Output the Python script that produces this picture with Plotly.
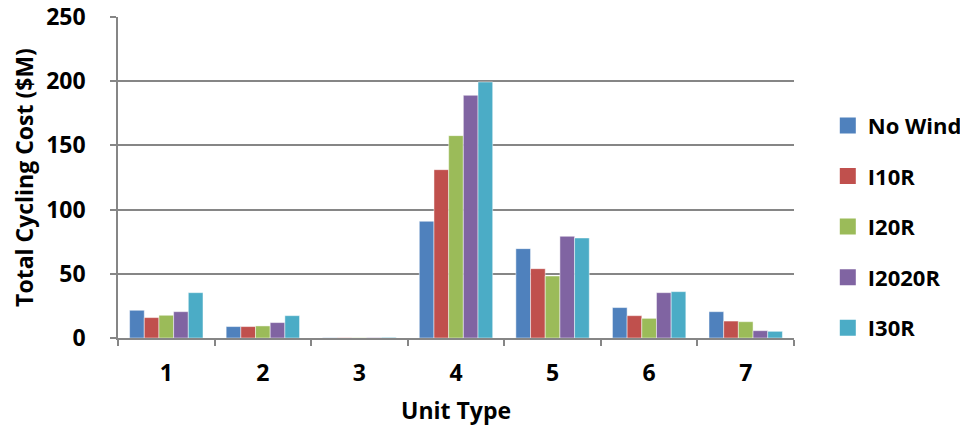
import plotly.graph_objects as go

categories = ["1", "2", "3", "4", "5", "6", "7"]
series_names = ["No Wind", "I10R", "I20R", "I2020R", "I30R"]
no_wind = [21.6, 8.9, 0.2, 90.9, 69.6, 23.7, 20.5]
i10r = [15.9, 8.9, 0.2, 131.1, 54.0, 17.4, 13.2]
i20r = [17.7, 9.4, 0.2, 157.6, 48.3, 15.3, 12.7]
i2020r = [20.5, 12.0, 0.3, 189.0, 79.2, 35.3, 5.7]
i30r = [35.3, 17.4, 0.5, 199.4, 77.9, 36.1, 5.2]
y_ticks = [0, 50, 100, 150, 200, 250]

colors = ["#4F81BD", "#C0504D", "#9BBB59", "#8064A2", "#4BACC6"]
values = [no_wind, i10r, i20r, i2020r, i30r]

FONT = "'Open Sans', Lato, sans-serif"
FS = 23

fig = go.Figure()
for name, vals, col in zip(series_names, values, colors):
    fig.add_trace(go.Bar(
        x=categories, y=vals, name=name, legendgroup=name, showlegend=False,
        marker=dict(color=col, line=dict(color="rgba(255,255,255,0.6)", width=0.8)),
    ))
# legend-only entries with larger square swatches
for name, col in zip(series_names, colors):
    fig.add_trace(go.Scatter(
        x=[None], y=[None], mode="markers", name=name, legendgroup=name,
        marker=dict(symbol="square", size=16, color=col),
    ))

# page body has an 8px default margin; size the figure to fit the window
fig.update_layout(
    width=952, height=418,
    paper_bgcolor="white", plot_bgcolor="white",
    margin=dict(l=110, r=166, t=9, b=88, autoexpand=False),
    barmode="group", bargap=0.24, bargroupgap=0,
    font=dict(family=FONT, size=FS, color="black"),
    legend=dict(
        x=1.05, y=0.347, xanchor="left", yanchor="middle",
        font=dict(family=FONT, size=22, color="black", weight="bold"),
        tracegroupgap=19, itemwidth=30,
    ),
    showlegend=True,
    annotations=[dict(
        text="<b>Unit Type</b>", xref="paper", yref="paper", x=0.5, y=0,
        xanchor="center", yanchor="middle", yshift=-72, showarrow=False,
        font=dict(family=FONT, size=FS, color="black"),
    )],
)
fig.update_xaxes(
    type="category", automargin=False,
    showline=True, linecolor="#868686", linewidth=1.5,
    ticks="outside", tickson="boundaries", ticklen=6, tickcolor="#868686", tickwidth=1.5,
    tickfont=dict(family=FONT, size=FS, color="black", weight="bold"),
    ticklabelstandoff=14,
    showgrid=False,
)
fig.update_yaxes(
    range=[0, 250], tickvals=y_ticks, automargin=False,
    ticklabeloverflow="allow",
    showline=True, linecolor="#868686", linewidth=1.5,
    ticks="outside", ticklen=6, tickcolor="#868686", tickwidth=1.5,
    showgrid=True, gridcolor="#868686", gridwidth=1.5,
    zeroline=False,
    tickfont=dict(family=FONT, size=FS, color="black", weight="bold"),
    ticklabelstandoff=20,
    title=dict(text="<b>Total Cycling Cost ($M)</b>", font=dict(family=FONT, size=FS, color="black"), standoff=12),
)

fig.write_html("out.html")
